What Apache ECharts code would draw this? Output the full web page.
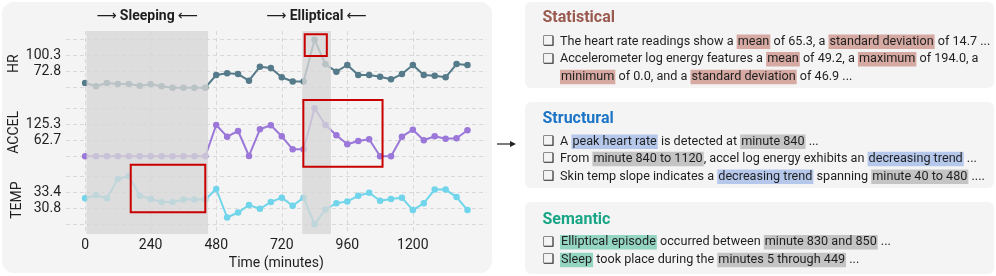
<!DOCTYPE html>
<html><head><meta charset="utf-8">
<script src="https://cdn.jsdelivr.net/npm/echarts@6/dist/echarts.min.js"></script>
<style>html,body{margin:0;padding:0;background:#fff}#c{width:996px;height:276px}</style>
</head><body><div id="c"></div>
<script>
// ---------------- data ----------------
const minutes = [0,40,80,120,160,200,240,280,320,360,400,440,480,520,560,600,640,680,720,760,800,840,880,920,960,1000,1040,1080,1120,1160,1200,1240,1280,1320,1360,1400];
const hrValues = [53.4,47.7,53.4,51.7,51.7,48.7,51.1,47.7,45.3,45.3,45.3,45.3,67.1,70.0,68.8,57.3,81.4,79.2,63.2,56.0,56.0,127.8,85.5,72.8,84.3,67.1,67.1,64.2,59.7,68.8,84.3,67.1,65.9,63.2,86.0,84.3];
const accelValues = [0,0,0,0,0,0,0,0,0,0,0,0,122.6,76.8,99.1,1.2,105.8,121.4,78.3,27.4,27.4,188.0,122.6,82.3,47.0,60.0,66.6,0,0,76.8,104.2,62.7,78.3,69.0,70.5,101.8];
const tempValues = [32.4,32.9,32.4,35.5,36.0,32.8,32.3,31.8,31.8,32.2,32.2,32.2,33.9,29.3,30.1,31.3,30.7,31.8,32.5,31.2,32.5,28.2,30.6,31.6,31.9,32.8,33.3,32.0,32.3,32.5,30.5,31.6,33.8,33.8,32.6,30.5];

const hrTicks = [45.3, 72.8, 100.3, 127.8];
const accelTicks = [0.0, 62.7, 125.3, 188.0];
const tempTicks = [28.2, 30.8, 33.4, 36.0];
const hrLabels = [72.8, 100.3];
const accelLabels = [62.7, 125.3];
const tempLabels = [30.8, 33.4];
const xTicks = [0, 240, 480, 720, 960, 1200];

const sleepSpan = [5, 450];
const ellipticalSpan = [795, 900];
const hrBox = [[804, 137.1], [885, 99.8]];
const accelBox = [[799, 220.5], [1089, -40.7]];
const tempBox = [[167, 37.8], [440, 30.15]];

const panelTitles = ['Statistical', 'Structural', 'Semantic'];
const statLines = [
  [['The heart rate readings show a ',''],['mean','st'],[' of 65.3, a ',''],['standard deviation','st'],[' of 14.7 ...','']],
  [['Accelerometer log energy features a ',''],['mean','st'],[' of 49.2, a ',''],['maximum','st'],[' of 194.0, a','']],
  [['minimum','st'],[' of 0.0, and a ',''],['standard deviation','st'],[' of 46.9 ...','']]
];
const structLines = [
  [['A ',''],['peak heart rate','bl'],[' is detected at ',''],['minute 840','gr'],[' ...','']],
  [['From ',''],['minute 840 to 1120','gr'],[', accel log energy exhibits an ',''],['decreasing trend','bl'],[' ...','']],
  [['Skin temp slope indicates a ',''],['decreasing trend','bl'],[' spanning ',''],['minute 40 to 480','gr'],[' ....','']]
];
const semLines = [
  [['Elliptical episode','gn'],[' occurred between ',''],['minute 830 and 850','gr'],[' ...','']],
  [['Sleep','gn'],[' took place during the ',''],['minutes 5 through 449','gr'],[' ...','']]
];

// ---------------- layout / style ----------------
const FONT = 'Roboto';
const TXT = '#1f1f1f';
const gridLeft = 66, gridWidth = 420.6;
const xMin = -70, xMax = 1470;
const gridLine = {show: true, lineStyle: {color: '#d9d9d9', type: [4, 3], width: 1}};

// subplot: top tick px, px per tick step, padding px
const subplots = [
  {name: 'HR', ticks: hrTicks, labels: hrLabels, topPx: 39.7, step: 16, pad: 8.7, color: '#557a89', values: hrValues, box: hrBox},
  {name: 'ACCEL', ticks: accelTicks, labels: accelLabels, topPx: 108.3, step: 16, pad: 11, color: '#9b77d9', values: accelValues, box: accelBox},
  {name: 'TEMP', ticks: tempTicks, labels: tempLabels, topPx: 176, step: 16.1, pad: 12, color: '#70d4ea', values: tempValues, box: tempBox}
];

const grids = [], xAxes = [], yAxes = [], series = [];
subplots.forEach((s, i) => {
  const n = s.ticks.length - 1;
  const unit = (s.ticks[n] - s.ticks[0]) / n;
  const padV = s.pad / s.step * unit;
  grids.push({left: gridLeft, width: gridWidth, top: s.topPx - s.pad, height: s.step * n + 2 * s.pad, outerBoundsMode: 'none', containLabel: false});
  xAxes.push({type: 'value', gridIndex: i, min: xMin, max: xMax, show: false});
  yAxes.push({
    type: 'value', gridIndex: i, min: s.ticks[0] - padV, max: s.ticks[n] + padV,
    name: s.name, nameLocation: 'middle', nameRotate: 90, nameGap: 42,
    nameTextStyle: {fontFamily: FONT, fontSize: 14, color: TXT},
    axisLine: {show: false},
    axisTick: {show: false, customValues: s.ticks},
    axisLabel: {customValues: s.labels, formatter: v => v.toFixed(1), fontFamily: FONT, fontSize: 14, color: TXT, margin: 5},
    splitLine: gridLine
  });
  series.push({
    type: 'line', xAxisIndex: i, yAxisIndex: i, z: 2,
    data: minutes.map((t, k) => [t, s.values[k]]),
    symbol: 'circle', symbolSize: 6.5, showSymbol: true,
    lineStyle: {color: s.color, width: 2}, itemStyle: {color: s.color},
    silent: true, animation: false
  });
  series.push({
    type: 'line', xAxisIndex: i, yAxisIndex: i, data: [], z: 20, silent: true, animation: false,
    markArea: {z: 20, silent: true,
      itemStyle: {color: 'rgba(0,0,0,0)', borderColor: '#c80000', borderWidth: 2},
      data: [[{xAxis: s.box[0][0], yAxis: s.box[0][1]}, {xAxis: s.box[1][0], yAxis: s.box[1][1]}]]}
  });
});

// overlay grid for shading and time axis
grids.push({left: gridLeft, width: gridWidth, top: 31, height: 203, outerBoundsMode: 'none', containLabel: false});
xAxes.push({
  type: 'value', gridIndex: 3, min: xMin, max: xMax,
  name: 'Time (minutes)', nameLocation: 'middle', nameGap: 21,
  nameTextStyle: {fontFamily: FONT, fontSize: 14, color: TXT},
  axisLine: {show: false}, axisTick: {show: false, customValues: xTicks},
  axisLabel: {customValues: xTicks, formatter: v => String(v), fontFamily: FONT, fontSize: 14, color: TXT, margin: 4},
  splitLine: gridLine
});
yAxes.push({type: 'value', gridIndex: 3, min: 0, max: 1, show: false});
series.push({
  type: 'line', xAxisIndex: 3, yAxisIndex: 3, data: [], z: 10, silent: true, animation: false,
  markArea: {
    z: 10, silent: true,
    itemStyle: {color: 'rgba(214,214,214,0.78)'},
    label: {show: true, position: 'top', distance: 8,
      formatter: p => '{a|\u27F6} {t|' + p.name + '} {a|\u27F5}',
      rich: {a: {fontFamily: 'DejaVu Sans', fontSize: 14, color: TXT}, t: {fontFamily: FONT, fontSize: 14, fontWeight: 'bold', color: TXT}}},
    data: [
      [{name: 'Sleeping', xAxis: sleepSpan[0]}, {xAxis: sleepSpan[1]}],
      [{name: 'Elliptical', xAxis: ellipticalSpan[0]}, {xAxis: ellipticalSpan[1]}]
    ]
  }
});

// ---------------- text panels ----------------
const BODY = 12.65;
const rich = {
  n: {fontFamily: FONT, fontSize: BODY, fill: TXT},
  st: {fontFamily: FONT, fontSize: BODY, fill: TXT, backgroundColor: '#d6aaa3', height: 14.5, padding: [0, 1]},
  bl: {fontFamily: FONT, fontSize: BODY, fill: TXT, backgroundColor: '#b5c8ec', height: 14.5, padding: [0, 1]},
  gr: {fontFamily: FONT, fontSize: BODY, fill: TXT, backgroundColor: '#c4c4c4', height: 14.5, padding: [0, 1]},
  gn: {fontFamily: FONT, fontSize: BODY, fill: TXT, backgroundColor: '#95d6c3', height: 14.5, padding: [0, 1]}
};
function richStr(segs) { return segs.map(([t, k]) => '{' + (k || 'n') + '|' + t + '}').join(''); }

const graphics = [
  {type: 'rect', z: -10, shape: {x: 2, y: 2, width: 490, height: 271, r: 12}, style: {fill: '#f4f4f4'}},
  {type: 'rect', z: -10, shape: {x: 525, y: 2, width: 469, height: 86, r: 6}, style: {fill: '#f4f4f4'}},
  {type: 'rect', z: -10, shape: {x: 525, y: 102, width: 469, height: 86, r: 6}, style: {fill: '#f4f4f4'}},
  {type: 'rect', z: -10, shape: {x: 525, y: 202, width: 469, height: 72, r: 6}, style: {fill: '#f4f4f4'}},
  {type: 'line', z: 50, shape: {x1: 497, y1: 144, x2: 511, y2: 144}, style: {stroke: '#222', lineWidth: 1.2}},
  {type: 'polygon', z: 50, shape: {points: [[510, 141], [516, 144], [510, 147]]}, style: {fill: '#222'}}
];
const panels = [
  {title: panelTitles[0], color: '#9a5a50', titleY: 18.3, lines: statLines, ys: [41.7, 59.3, 77.0], bullets: [true, true, false]},
  {title: panelTitles[1], color: '#1b74c6', titleY: 119, lines: structLines, ys: [141.7, 159, 176.7], bullets: [true, true, true]},
  {title: panelTitles[2], color: '#17a585', titleY: 220, lines: semLines, ys: [242.3, 260], bullets: [true, true]}
];
panels.forEach(p => {
  graphics.push({type: 'text', z: 50, x: 542.5, y: p.titleY, style: {text: p.title, fontFamily: FONT, fontSize: 16, fontWeight: 'bold', fill: p.color, verticalAlign: 'middle', textAlign: 'left'}});
  p.lines.forEach((segs, i) => {
    if (p.bullets[i]) graphics.push({type: 'text', z: 50, x: 542.5, y: p.ys[i], style: {text: '\u2751', fontFamily: 'DejaVu Sans', fontSize: 13, fill: TXT, verticalAlign: 'middle', textAlign: 'left'}});
    graphics.push({type: 'text', z: 50, x: 560, y: p.ys[i], style: {text: richStr(segs), rich: rich, fontFamily: FONT, fontSize: BODY, fill: TXT, verticalAlign: 'middle', textAlign: 'left'}});
  });
});

const chart = echarts.init(document.getElementById('c'), null, {renderer: 'canvas'});
chart.setOption({
  animation: false,
  backgroundColor: '#ffffff',
  grid: grids, xAxis: xAxes, yAxis: yAxes, series: series,
  graphic: {elements: graphics}
});
</script></body></html>
